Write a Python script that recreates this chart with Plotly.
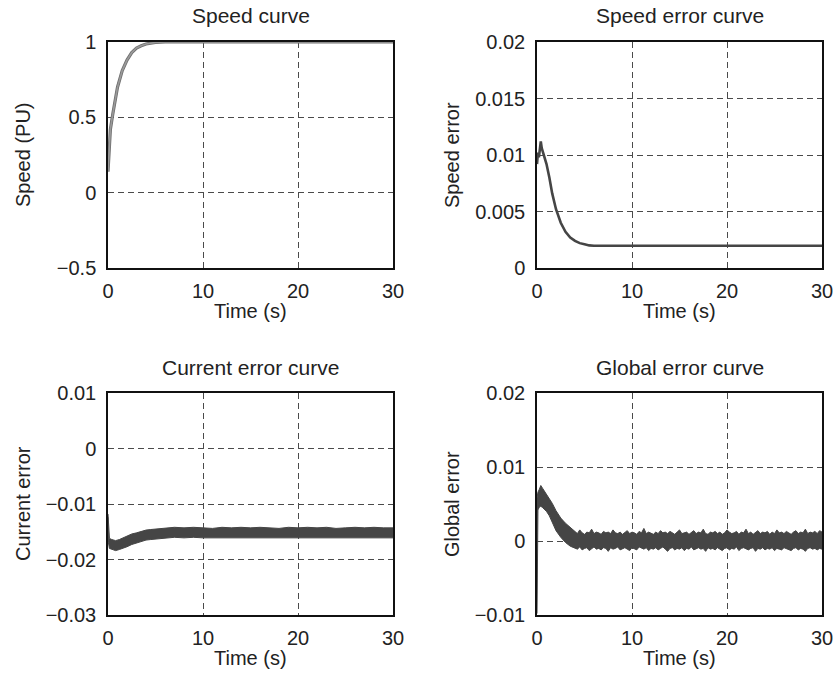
import plotly.graph_objects as go

W, H = 838, 675

# ---------------- data ----------------
time_ticks = [0, 10, 20, 30]

# Speed curve
speed_t = [0, 0.1, 0.25, 0.5, 0.75, 1.0, 1.5, 2.0, 2.5, 3.0, 3.5, 4.0, 5.0, 6.0, 30]
speed_v = [0.14, 0.30, 0.42, 0.52, 0.62, 0.70, 0.81, 0.88, 0.93, 0.96, 0.975, 0.987, 0.997, 1.0, 1.0]

# Speed error curve
serr_t = [0, 0.1, 0.2, 0.3, 0.4, 0.5, 0.6, 0.8, 1.0, 1.3, 1.6, 2.0, 2.5, 3.0, 3.5, 4.0, 4.5, 5.0, 5.5, 6.0, 30]
serr_v = [0.0092, 0.0102, 0.0098, 0.0108, 0.0112, 0.0106, 0.0103, 0.0099, 0.0092, 0.0080,
          0.0066, 0.0052, 0.0040, 0.0032, 0.0027, 0.0024, 0.0022, 0.0021, 0.0020, 0.00197, 0.00197]

# Current error curve (noisy band: upper / lower envelopes)
cerr_t = [0, 0.05, 0.15, 0.4, 0.8, 1.2, 1.6, 2.0, 2.5, 3.0, 3.5, 4.0, 4.5, 5.0, 5.5,
          6, 7, 8, 9, 10, 11, 12, 13, 14, 15, 16, 17, 18, 19, 20, 21, 22, 23, 24, 25,
          26, 27, 28, 29, 30]
cerr_hi = [-0.0118, -0.0140, -0.0162, -0.0164, -0.0166, -0.0164, -0.0161, -0.0158, -0.0154,
           -0.0152, -0.0149, -0.0147, -0.0146, -0.0145, -0.0144,
           -0.0143, -0.0142, -0.0143, -0.0142, -0.0143, -0.0144, -0.0142, -0.0143, -0.0142,
           -0.0143, -0.0142, -0.0143, -0.0144, -0.0142, -0.0143, -0.0142, -0.0143, -0.0142,
           -0.0144, -0.0143, -0.0142, -0.0143, -0.0142, -0.0143, -0.0143]
cerr_lo = [-0.0124, -0.0170, -0.0180, -0.0182, -0.0184, -0.0182, -0.0180, -0.0177, -0.0173,
           -0.0170, -0.0167, -0.0165, -0.0164, -0.0163, -0.0162,
           -0.0161, -0.0160, -0.0161, -0.0160, -0.0161, -0.0161, -0.0160, -0.0161, -0.0160,
           -0.0161, -0.0160, -0.0161, -0.0161, -0.0160, -0.0161, -0.0160, -0.0161, -0.0160,
           -0.0161, -0.0161, -0.0160, -0.0161, -0.0160, -0.0161, -0.0161]

# Global error curve (noisy band: upper / lower envelopes)
gerr_t_early = [0, 0.03, 0.1, 0.25, 0.4, 0.6, 0.8, 1.0, 1.3, 1.6, 2.0, 2.5, 3.0, 3.5]
gerr_hi_early = [0.0058, 0.0062, 0.0066, 0.0070, 0.0075, 0.0071, 0.0067, 0.0062, 0.0057,
                 0.0051, 0.0041, 0.0031, 0.0024, 0.0018]
gerr_lo_early = [-0.0098, 0.0040, 0.0042, 0.0046, 0.0047, 0.0045, 0.0043, 0.0040, 0.0034,
                 0.0026, 0.0014, 0.0005, -0.0002, -0.0007]
gerr_t_flat = [4 + 0.25 * i for i in range(105)]
gerr_hi_flat = [0.0012, 0.0010, 0.0015, 0.0011, 0.0009, 0.0012, 0.0011, 0.0016, 0.0010, 0.0012,
                0.0011, 0.0009, 0.0013, 0.0011, 0.0012, 0.0010, 0.0015, 0.0011, 0.0010, 0.0012,
                0.0009, 0.0011, 0.0014, 0.0010, 0.0012, 0.0011, 0.0009, 0.0013, 0.0011, 0.0017,
                0.0010, 0.0012, 0.0011, 0.0009, 0.0012, 0.0010, 0.0014, 0.0011, 0.0012, 0.0010,
                0.0013, 0.0011, 0.0009, 0.0012, 0.0015, 0.0010, 0.0011, 0.0012, 0.0009, 0.0011,
                0.0014, 0.0010, 0.0012, 0.0011, 0.0016, 0.0010, 0.0009, 0.0012, 0.0011, 0.0013,
                0.0010, 0.0012, 0.0009, 0.0011, 0.0015, 0.0012, 0.0010, 0.0011, 0.0013, 0.0009,
                0.0012, 0.0011, 0.0016, 0.0010, 0.0012, 0.0009, 0.0011, 0.0014, 0.0010, 0.0012,
                0.0011, 0.0013, 0.0009, 0.0012, 0.0010, 0.0015, 0.0011, 0.0012, 0.0010, 0.0013,
                0.0011, 0.0009, 0.0012, 0.0014, 0.0010, 0.0012, 0.0011, 0.0016, 0.0010, 0.0012,
                0.0011, 0.0013, 0.0010, 0.0014, 0.0012]
gerr_lo_flat = [-0.0009, -0.0011, -0.0008, -0.0012, -0.0010, -0.0009, -0.0013, -0.0010, -0.0008, -0.0011,
                -0.0010, -0.0012, -0.0009, -0.0010, -0.0014, -0.0009, -0.0011, -0.0010, -0.0008, -0.0012,
                -0.0010, -0.0009, -0.0011, -0.0013, -0.0009, -0.0010, -0.0012, -0.0008, -0.0010, -0.0011,
                -0.0009, -0.0013, -0.0010, -0.0011, -0.0009, -0.0012, -0.0010, -0.0008, -0.0011, -0.0014,
                -0.0010, -0.0009, -0.0012, -0.0010, -0.0011, -0.0009, -0.0013, -0.0010, -0.0011, -0.0008,
                -0.0012, -0.0010, -0.0009, -0.0011, -0.0010, -0.0014, -0.0009, -0.0011, -0.0010, -0.0012,
                -0.0009, -0.0011, -0.0013, -0.0010, -0.0009, -0.0012, -0.0010, -0.0011, -0.0008, -0.0013,
                -0.0010, -0.0009, -0.0011, -0.0012, -0.0010, -0.0009, -0.0014, -0.0010, -0.0011, -0.0009,
                -0.0012, -0.0010, -0.0011, -0.0009, -0.0013, -0.0010, -0.0011, -0.0012, -0.0009, -0.0010,
                -0.0011, -0.0013, -0.0010, -0.0009, -0.0012, -0.0010, -0.0011, -0.0014, -0.0010, -0.0009,
                -0.0011, -0.0010, -0.0012, -0.0010, -0.0011]
gerr_t = gerr_t_early + gerr_t_flat
gerr_hi = gerr_hi_early + gerr_hi_flat
gerr_lo = gerr_lo_early + gerr_lo_flat

# y-axis ticks
y1_vals, y1_text = [-0.5, 0, 0.5, 1], ["\u22120.5", "0", "0.5", "1"]
y2_vals, y2_text = [0, 0.005, 0.01, 0.015, 0.02], ["0", "0.005", "0.01", "0.015", "0.02"]
y3_vals, y3_text = [-0.03, -0.02, -0.01, 0, 0.01], ["\u22120.03", "\u22120.02", "\u22120.01", "0", "0.01"]
y4_vals, y4_text = [-0.01, 0, 0.01, 0.02], ["\u22120.01", "0", "0.01", "0.02"]

titles = ["Speed curve", "Speed error curve", "Current error curve", "Global error curve"]
ytitles = ["Speed (PU)", "Speed error", "Current error", "Global error"]
xtitle = "Time (s)"

# ---------------- layout geometry (window pixels) ----------------
FONT = "Liberation Sans, Arial, Helvetica, sans-serif"
TXT = "#222222"
cols = [(108, 393), (537, 822)]
rows = [(42, 268), (393, 615)]


def px(x):
    return x / W


def py(y):
    return 1 - y / H


fig = go.Figure()

dark = "#454545"

# Speed curve
fig.add_trace(go.Scatter(x=speed_t, y=speed_v, mode="lines", line=dict(color="#6e6e6e", width=3.2),
                         xaxis="x", yaxis="y", showlegend=False, hoverinfo="skip"))
fig.add_trace(go.Scatter(x=speed_t, y=speed_v, mode="lines", line=dict(color="#9a9a9a", width=1.6),
                         xaxis="x", yaxis="y", showlegend=False))
# Speed error
fig.add_trace(go.Scatter(x=serr_t, y=serr_v, mode="lines", line=dict(color=dark, width=2.6),
                         xaxis="x2", yaxis="y2", showlegend=False))
# Current error band
fig.add_trace(go.Scatter(x=cerr_t, y=cerr_lo, mode="lines", line=dict(color=dark, width=1),
                         xaxis="x3", yaxis="y3", showlegend=False))
fig.add_trace(go.Scatter(x=cerr_t, y=cerr_hi, mode="lines", line=dict(color=dark, width=1),
                         fill="tonexty", fillcolor=dark, xaxis="x3", yaxis="y3", showlegend=False))
# Global error band
fig.add_trace(go.Scatter(x=gerr_t, y=gerr_lo, mode="lines", line=dict(color=dark, width=1),
                         xaxis="x4", yaxis="y4", showlegend=False))
fig.add_trace(go.Scatter(x=gerr_t, y=gerr_hi, mode="lines", line=dict(color=dark, width=1),
                         fill="tonexty", fillcolor=dark, xaxis="x4", yaxis="y4", showlegend=False))

common = dict(showline=True, mirror=True, linecolor="#111111", linewidth=1.5,
              showgrid=True, gridcolor="#4a4a4a", griddash="6px,4px", gridwidth=1,
              zeroline=False, ticks="", automargin=False,
              tickfont=dict(family=FONT, size=20, color=TXT), fixedrange=True)

layout = dict(template="none", width=W, height=H, margin=dict(l=0, r=0, t=0, b=0, pad=0),
              paper_bgcolor="white", plot_bgcolor="white", showlegend=False,
              font=dict(family=FONT, size=20, color=TXT))

yspecs = [(y1_vals, y1_text, [-0.5, 1]), (y2_vals, y2_text, [0, 0.02]),
          (y3_vals, y3_text, [-0.03, 0.01]), (y4_vals, y4_text, [-0.01, 0.02])]

annotations = []
for i in range(4):
    r, c = divmod(i, 2)
    x0, x1 = cols[c]
    y0, y1 = rows[r]
    sx = "" if i == 0 else str(i + 1)
    layout["xaxis" + sx] = dict(common, domain=[px(x0), px(x1)], range=[0, 30],
                                tickvals=time_ticks, anchor="y" + sx,
                                ticklabelstandoff=4)
    vals, text, rng = yspecs[i]
    layout["yaxis" + sx] = dict(common, domain=[py(y1), py(y0)], range=rng,
                                tickvals=vals, ticktext=text, anchor="x" + sx,
                                ticklabelstandoff=6)
    xc = (x0 + x1) / 2
    # subplot title
    annotations.append(dict(text=titles[i], x=px(xc), y=py(y0 - 26), xref="paper", yref="paper",
                            showarrow=False, xanchor="center", yanchor="middle",
                            font=dict(family=FONT, size=21, color=TXT)))
    # x-axis title
    annotations.append(dict(text=xtitle, x=px(xc), y=py(y1 + 43), xref="paper", yref="paper",
                            showarrow=False, xanchor="center", yanchor="middle",
                            font=dict(family=FONT, size=20, color=TXT)))
    # y-axis title
    annotations.append(dict(text=ytitles[i], x=px(x0 - 85), y=py((y0 + y1) / 2), xref="paper",
                            yref="paper", showarrow=False, textangle=-90,
                            xanchor="center", yanchor="middle",
                            font=dict(family=FONT, size=20, color=TXT)))

layout["annotations"] = annotations
fig.update_layout(**layout)
# remove the default page margin so the figure fills the 838x675 window exactly
fig.write_html("out.html", config={"displayModeBar": False},
               post_script="document.body.style.margin='0';document.body.style.overflow='hidden';")
